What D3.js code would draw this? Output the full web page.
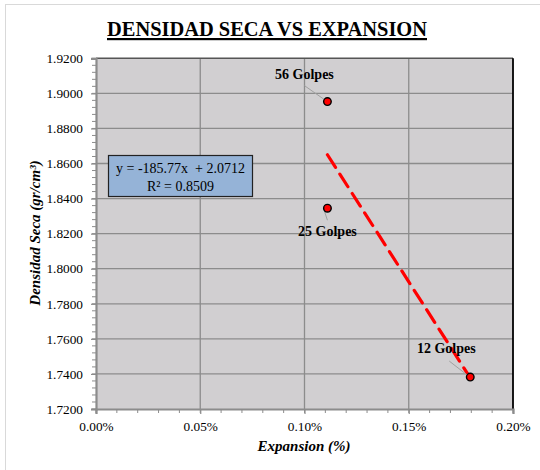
<!DOCTYPE html>
<html>
<head>
<meta charset="utf-8">
<script src="https://cdn.jsdelivr.net/npm/d3@7"></script>
<style>
  html, body { margin: 0; padding: 0; background: #fff; }
  svg { display: block; }
  text { font-family: "Liberation Serif", "Times New Roman", serif; fill: #000; }
  .fb { font-weight: bold; }
</style>
</head>
<body>
<svg id="chart" width="540" height="470"></svg>
<script>
// ---- data ----
const labels = ["56 Golpes", "25 Golpes", "12 Golpes"];
const expansion = [0.00111, 0.00111, 0.001795];   // fraction (shown as %)
const density = [1.8953, 1.8345, 1.7382];
const trendSlope = -185.77;
const trendIntercept = 2.0712;
const trendR2 = 0.8509;
const xTicks = [0, 0.0005, 0.0010, 0.0015, 0.0020];
const yTicks = [1.72, 1.74, 1.76, 1.78, 1.80, 1.82, 1.84, 1.86, 1.88, 1.90, 1.92];

const svg = d3.select("#chart");
const L = 96, R = 513, T = 58.3, B = 409;

// chart-area border
svg.append("rect").attr("x", 5.5).attr("y", 4.5).attr("width", 540).attr("height", 470)
  .attr("fill", "#fff").attr("stroke", "#d9d9d9").attr("stroke-width", 1);

const x = d3.scaleLinear().domain([0, 0.002]).range([L, R]);
const y = d3.scaleLinear().domain([1.72, 1.92]).range([B, T]);

// plot area
svg.append("rect").attr("x", L).attr("y", T).attr("width", R - L).attr("height", B - T)
  .attr("fill", "#d1cfd1");

// gridlines
svg.append("g").selectAll("line").data(yTicks.slice(1, -1)).join("line")
  .attr("x1", L).attr("x2", R).attr("y1", d => y(d)).attr("y2", d => y(d))
  .attr("stroke", "#8c8c8c").attr("stroke-width", 1.3);
svg.append("g").selectAll("line").data(xTicks.slice(1, -1)).join("line")
  .attr("y1", T).attr("y2", B).attr("x1", d => x(d)).attr("x2", d => x(d))
  .attr("stroke", "#8c8c8c").attr("stroke-width", 1.3);

// top/right border
svg.append("line").attr("x1", L).attr("x2", R).attr("y1", T).attr("y2", T)
  .attr("stroke", "#555").attr("stroke-width", 1.5);
svg.append("line").attr("x1", R).attr("x2", R).attr("y1", T).attr("y2", B)
  .attr("stroke", "#000").attr("stroke-width", 1.8);

// axes
const yMinor = d3.range(1.72, 1.9201, 0.004);
const xMinor = d3.range(0, 0.002001, 0.0001);
const gy = svg.append("g").attr("transform", `translate(${L},0)`)
  .call(d3.axisLeft(y).tickValues(yTicks).tickFormat(d3.format(".4f")).tickSize(5).tickPadding(8));
const gx = svg.append("g").attr("transform", `translate(0,${B})`)
  .call(d3.axisBottom(x).tickValues(xTicks).tickFormat(d3.format(".2%")).tickSize(5).tickPadding(8));
[gx, gy].forEach(g => {
  g.select(".domain").attr("stroke", "#8c8c8c").attr("stroke-width", 2.2);
  g.selectAll(".tick line").attr("stroke", "#8c8c8c").attr("stroke-width", 1.2);
  g.selectAll("text").style("font-family", "'Liberation Serif', serif").style("font-size", "13.3px").attr("fill", "#000");
});
svg.append("g").selectAll("line").data(yMinor).join("line")
  .attr("x1", L - 4).attr("x2", L).attr("y1", d => y(d)).attr("y2", d => y(d))
  .attr("stroke", "#8c8c8c").attr("stroke-width", 1);
svg.append("g").selectAll("line").data(xMinor).join("line")
  .attr("y1", B).attr("y2", B + 4).attr("x1", d => x(d)).attr("x2", d => x(d))
  .attr("stroke", "#8c8c8c").attr("stroke-width", 1);

// trendline
const xmin = d3.min(expansion), xmax = d3.max(expansion);
svg.append("line")
  .attr("x1", x(xmin)).attr("y1", y(trendSlope * xmin + trendIntercept))
  .attr("x2", x(xmax)).attr("y2", y(trendSlope * xmax + trendIntercept))
  .attr("stroke", "#ff0000").attr("stroke-width", 3.2)
  .attr("stroke-dasharray", "15,8").attr("stroke-linecap", "round");

// leader lines & labels
const labelPos = [[-23, -23], [0, 28], [-24, -24]];
const leaderEnd = [[-23, -16], [0, 12], [-21, -16]];
labels.forEach((lab, i) => {
  const px = x(expansion[i]), py = y(density[i]);
  svg.append("line").attr("x1", px - 3).attr("y1", py - (i === 1 ? -3 : 2))
    .attr("x2", px + leaderEnd[i][0]).attr("y2", py + leaderEnd[i][1])
    .attr("stroke", "#a0a0a0").attr("stroke-width", 1);
  svg.append("text").attr("class", "fb").attr("x", px + labelPos[i][0]).attr("y", py + labelPos[i][1])
    .attr("text-anchor", "middle").style("font-size", "14px")
    .text(lab);
});

// points
svg.append("g").selectAll("circle").data(expansion).join("circle")
  .attr("cx", d => x(d)).attr("cy", (d, i) => y(density[i])).attr("r", 3.8)
  .attr("fill", "#ff0000").attr("stroke", "#000").attr("stroke-width", 1.4);

// equation box
svg.append("rect").attr("x", 108.5).attr("y", 155.5).attr("width", 144).attr("height", 41)
  .attr("fill", "#95b3d7").attr("stroke", "#222").attr("stroke-width", 1.2);
svg.append("text").attr("x", 180.5).attr("y", 173).attr("text-anchor", "middle")
  .style("font-size", "14px").attr("xml:space", "preserve")
  .text(`y = ${trendSlope}x  + ${trendIntercept}`);
svg.append("text").attr("x", 180.5).attr("y", 191).attr("text-anchor", "middle")
  .style("font-size", "14px").text(`R² = ${trendR2}`);

// title
svg.append("text").attr("class", "fb").attr("x", 267).attr("y", 36).attr("text-anchor", "middle")
  .style("font-size", "22px").style("text-decoration", "underline")
  .attr("textLength", 320).attr("lengthAdjust", "spacingAndGlyphs")
  .text("DENSIDAD SECA VS EXPANSION");

// axis titles
svg.append("text").attr("class", "fb").attr("x", 304).attr("y", 451).attr("text-anchor", "middle")
  .style("font-size", "15px").style("font-style", "italic")
  .text("Expansion (%)");
svg.append("text").attr("class", "fb").attr("transform", `translate(40,233) rotate(-90)`).attr("text-anchor", "middle")
  .style("font-size", "15px").style("font-style", "italic")
  .text("Densidad Seca (gr/cm³)");
</script>
</body>
</html>
